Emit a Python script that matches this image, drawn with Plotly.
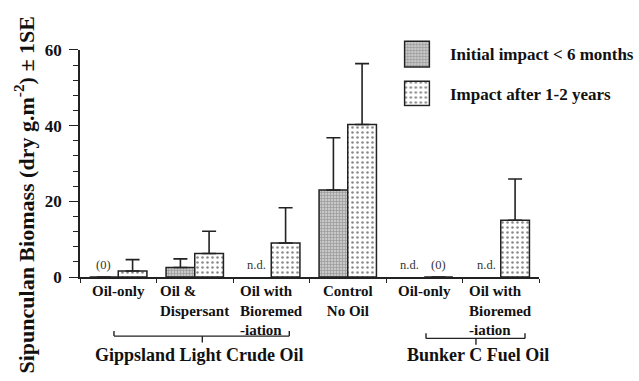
import plotly.graph_objects as go

# Treatment groups along the x axis (numeric positions 0..5)
categories = ["Oil-only", "Oil &<br>Dispersant", "Oil with<br>Bioremed<br>-iation",
              "Control<br>No Oil", "Oil-only", "Oil with<br>Bioremed<br>-iation"]
label_align = ["center", "left", "left", "center", "center", "left"]

# Biomass means (dry g m^-2); None = not determined
initial_vals = [0, 2.5, None, 23.0, None, None]
initial_se = [None, 2.3, None, 13.8, None, None]
after_vals = [1.6, 6.2, 9.0, 40.3, 0, 15.0]
after_se = [3.0, 5.9, 9.3, 16.1, None, 10.9]

# Small notes printed at the foot of missing / zero bars
initial_notes = ["(0)", "", "n.d.", "", "n.d.", "n.d."]
after_notes = ["", "", "", "", "(0)", ""]

series_names = ["Initial impact < 6 months", "Impact after 1-2 years"]
oil_groups = ["Gippsland Light Crude Oil", "Bunker C Fuel Oil"]

y_ticks = [0, 20, 40, 60]

SERIF = "Liberation Serif, Times New Roman, serif"
positions = list(range(len(categories)))

grey_pattern = dict(shape="+", size=3, solidity=0.4, fgcolor="#666666", bgcolor="#c8c8c8")
dot_pattern = dict(shape=".", size=5, solidity=0.2, fgcolor="#111111", bgcolor="white")

fig = go.Figure()

fig.add_trace(go.Bar(
    x=positions, y=initial_vals, name=series_names[0],
    marker=dict(color="#c8c8c8", pattern=grey_pattern, line=dict(color="#222", width=1.5)),
    error_y=dict(type="data", array=initial_se, symmetric=False,
                 arrayminus=[0] * len(positions), color="#222", thickness=1.6, width=7),
    showlegend=False,
))
fig.add_trace(go.Bar(
    x=positions, y=after_vals, name=series_names[1],
    marker=dict(color="white", pattern=dot_pattern, line=dict(color="#222", width=1.5)),
    error_y=dict(type="data", array=after_se, symmetric=False,
                 arrayminus=[0] * len(positions), color="#222", thickness=1.6, width=7),
    showlegend=False,
))

# Legend swatches drawn as single bars in their own small subplots
swatch_specs = [
    ("x2", "y2", "#c8c8c8", grey_pattern),
    ("x3", "y3", "white", dot_pattern),
]
for xa, ya, col, pat in swatch_specs:
    fig.add_trace(go.Bar(
        x=[0], y=[1], width=[1], xaxis=xa, yaxis=ya, showlegend=False, hoverinfo="skip",
        marker=dict(color=col, pattern=pat, line=dict(color="#222", width=1.5)),
    ))

bar_offset = 0.1875  # centre of each bar within its group (bargap 0.25, two bars)

annotations = []
for i, (n0, n1) in enumerate(zip(initial_notes, after_notes)):
    for note, dx in ((n0, -bar_offset), (n1, bar_offset)):
        if note:
            annotations.append(dict(
                x=i + dx, y=0, xref="x", yref="y", text=note, showarrow=False,
                yanchor="bottom", yshift=3,
                font=dict(family=SERIF, size=12.5, color="#333"),
            ))

# Category labels under the axis
for i, (lab, al) in enumerate(zip(categories, label_align)):
    annotations.append(dict(
        x=i, y=-0.015, xref="x", yref="paper", text=lab, showarrow=False,
        xanchor="center", yanchor="top", align=al,
        font=dict(family=SERIF, size=15, color="#111", weight="bold"),
    ))

# Oil-type group labels
for txt, gx in zip(oil_groups, [1.056, 4.70]):
    annotations.append(dict(
        x=gx, y=-0.305, xref="x", yref="paper", text=txt, showarrow=False,
        xanchor="center", yanchor="middle",
        font=dict(family=SERIF, size=18, color="#111", weight="bold"),
    ))

# Legend text
for txt, ly in zip(series_names, [0.8677, 0.712]):
    annotations.append(dict(
        x=0.8007, y=ly, xref="paper", yref="paper", text=txt, showarrow=False,
        xanchor="left", yanchor="middle",
        font=dict(family=SERIF, size=17, color="#111", weight="bold"),
    ))

# Y axis title
annotations.append(dict(
    x=-0.122, y=0.317, xref="paper", yref="paper",
    text="Sipunculan Biomass (dry g.m<sup>-2</sup>) \u00b1 1SE",
    showarrow=False, textangle=-90, xanchor="center", yanchor="middle",
    font=dict(family=SERIF, size=22, color="#111", weight="bold"),
))

# Brackets grouping the oil treatments
shapes = []
line_style = dict(color="#222", width=1.4)
for x0, x1, xc, yb in [(-0.056, 2.236, 1.099, -0.230), (4.023, 5.317, 4.676, -0.239)]:
    yt = yb + 0.02
    ydn = yb - 0.025
    shapes += [
        dict(type="line", xref="x", yref="paper", x0=x0, x1=x1, y0=yb, y1=yb, line=line_style),
        dict(type="line", xref="x", yref="paper", x0=x0, x1=x0, y0=yb, y1=yt, line=line_style),
        dict(type="line", xref="x", yref="paper", x0=x1, x1=x1, y0=yb, y1=yt, line=line_style),
        dict(type="line", xref="x", yref="paper", x0=xc, x1=xc, y0=yb, y1=ydn, line=line_style),
    ]

hidden = dict(visible=False, fixedrange=True, showticklabels=False, ticks="",
              showgrid=False, zeroline=False, showline=False)

fig.update_layout(
    width=639, height=381,
    margin=dict(l=80, r=100, t=20, b=104),
    paper_bgcolor="white", plot_bgcolor="white",
    barmode="group", bargap=0.25, bargroupgap=0,
    annotations=annotations, shapes=shapes,
    xaxis=dict(
        range=[-0.5, 5.5], tickvals=[p - 0.5 for p in positions] + [5.5],
        showticklabels=False, ticks="outside", ticklen=4, tickwidth=1.4, tickcolor="#222",
        showline=True, linecolor="#222", linewidth=1.6, showgrid=False, zeroline=False,
    ),
    yaxis=dict(
        domain=[0, 0.8833], range=[0, 60], tickvals=y_ticks,
        ticks="outside", ticklen=9, tickwidth=1.4, tickcolor="#222",
        minor=dict(dtick=4, ticks="outside", ticklen=5, tickwidth=1.4, tickcolor="#222"),
        showline=True, linecolor="#222", linewidth=1.6, showgrid=False, zeroline=False,
        tickfont=dict(family=SERIF, size=17, color="#111", weight="bold"),
        ticklabelstandoff=4,
    ),
    xaxis2=dict(domain=[0.7044, 0.764], anchor="y2", range=[-0.55, 0.55], **hidden),
    yaxis2=dict(domain=[0.812, 0.922], anchor="x2", range=[-0.05, 1.05], **hidden),
    xaxis3=dict(domain=[0.7044, 0.764], anchor="y3", range=[-0.55, 0.55], **hidden),
    yaxis3=dict(domain=[0.6626, 0.7665], anchor="x3", range=[-0.05, 1.05], **hidden),
)

fig.write_html("out.html")
